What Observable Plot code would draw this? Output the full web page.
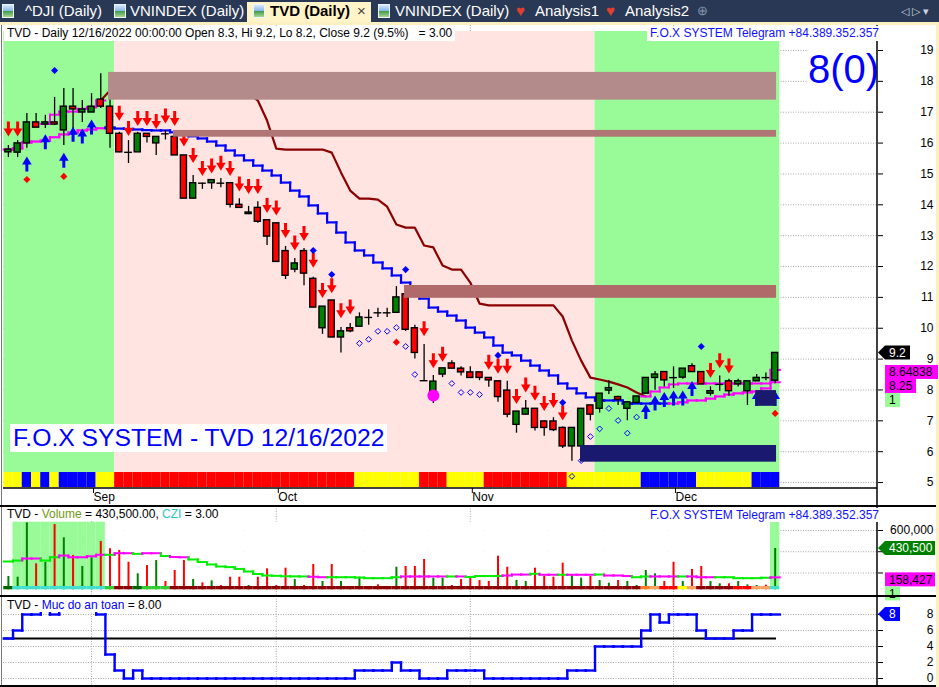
<!DOCTYPE html>
<html>
<head>
<meta charset="utf-8">
<script src="https://cdn.jsdelivr.net/npm/d3@7"></script>
<script src="https://cdn.jsdelivr.net/npm/@observablehq/plot@0.6"></script>
<style>
html,body{margin:0;padding:0;background:#fff;}
#root{position:relative;width:939px;height:687px;overflow:hidden;background:#fff;font-family:"Liberation Sans",Arial,sans-serif;}
#tabs{position:absolute;left:0;top:0;width:939px;height:22px;background:#293955;}
.tt{position:absolute;top:1px;font-size:15px;line-height:20px;color:#fff;white-space:nowrap;}
.ico{position:absolute;top:4px;width:10px;height:12px;background:linear-gradient(#d8e8ff 0%,#86b6ea 50%,#3f9a4a 51%,#a6d68f 100%);border:1px solid #eef4ff;}
.heart{position:absolute;top:1px;font-size:15px;line-height:20px;color:#e2402f;}
.sel{position:absolute;top:2px;height:21px;background:#fff3c8;}
.frame{position:absolute;background:#fcefc1;}
.box{position:absolute;background:#fff;white-space:pre;font-size:12px;line-height:15px;padding:0 3px;z-index:5;}
.hl{position:absolute;left:0;width:936px;height:1.5px;background:#000;z-index:4;}
.pane{position:absolute;left:0;}
</style>
</head>
<body>
<div id="root">
  <div id="tabs">
    <span class="ico" style="left:2px"></span><span class="tt" style="left:25px">^DJI (Daily)</span>
    <span class="ico" style="left:114px"></span><span class="tt" style="left:130px">VNINDEX (Daily)</span>
    <div class="sel" style="left:247px;width:124px"></div>
    <span class="ico" style="left:253px"></span><span class="tt" style="left:270px;color:#000;font-weight:bold">TVD (Daily)</span><span class="tt" style="left:357px;color:#444">×</span>
    <span class="ico" style="left:378px"></span><span class="tt" style="left:395px">VNINDEX (Daily)</span>
    <span class="heart" style="left:516px">♥</span><span class="tt" style="left:535px">Analysis1</span>
    <span class="heart" style="left:606px">♥</span><span class="tt" style="left:625px">Analysis2</span>
    <span class="tt" style="left:697px;color:#8796b0;font-size:13px">⊕</span>
    <span class="tt" style="left:901px;color:#cdd3de;font-size:11px">◁ ▷ ▾</span>
  </div>
  <div class="frame" style="left:0;top:22px;width:939px;height:3px"></div>
  <div class="frame" style="left:936px;top:22px;width:3px;height:665px"></div>
  <div style="position:absolute;left:1px;top:25px;width:1px;height:662px;background:#777;z-index:4"></div>

  <div id="mainPane" class="pane" style="top:25px"></div>
  <div id="volPane" class="pane" style="top:506px"></div>
  <div id="indPane" class="pane" style="top:596px"></div>

  <div class="hl" style="top:505px"></div>
  <div class="hl" style="top:595px"></div>
  <div class="hl" style="top:685px"></div>

  <div class="box" style="left:4px;top:26px">TVD - Daily 12/16/2022 00:00:00 Open 8.3, Hi 9.2, Lo 8.2, Close 9.2 (9.5%)   = 3.00</div>
  <div class="box" style="right:57px;top:26px;color:#1010ff">F.O.X SYSTEM Telegram +84.389.352.357</div>
  <div class="box" style="left:807px;top:41px;width:69px;height:52px;padding:0"></div>
  <div class="box" style="left:808px;top:49px;font-size:40px;line-height:40px;color:#0000ff;background:transparent;padding:0;z-index:6">8(0)</div>
  <div class="box" style="left:10px;top:424px;height:28px;font-size:24.7px;line-height:28px;color:#0000ff">F.O.X SYSTEM - TVD 12/16/2022</div>
  <div class="box" style="left:4px;top:507px;line-height:14px">TVD - <span style="color:#6f9a12">Volume</span> = 430,500.00, <span style="color:#2cc3c3">CZI</span> = 3.00</div>
  <div class="box" style="right:57px;top:508px;line-height:14px;color:#1010ff">F.O.X SYSTEM Telegram +84.389.352.357</div>
  <div class="box" style="left:4px;top:598px;line-height:14px">TVD - <span style="color:#0000ff">Muc do an toan</span> = 8.00</div>
</div>
<script>
// ---------------- DATA ----------------
const N = 84; // bars: 19 Aug 2022 .. 16 Dec 2022
const monthTicks = [9, 29, 50, 72];
const monthLabels = ["Sep", "Oct", "Nov", "Dec"];
const priceTicks = [5, 6, 7, 8, 9, 10, 11, 12, 13, 14, 15, 16, 17, 18, 19];
const volGrid = [200000, 400000, 600000];
const volLabelTicks = [600000];
const safetyTicks = [0, 2, 4, 6, 8];

const opens = [15.7,15.69,15.99,16.67,16.6,16.67,16.41,17.18,16.99,16.99,
17.41,17.18,16.3,15.7,15.7,16.3,15.99,16.3,16.2,15.6,
14.2,14.7,14.7,14.7,14.7,14.0,13.7,13.9,13.5,13.4,
12.5,11.9,12.5,11.6,10.0,10.9,9.7,10.0,10.05,10.35,
10.5,10.5,10.5,11.1,10.0,8.3,7.95,8.5,8.86,8.69,
8.57,8.57,8.39,8.28,7.98,6.87,7.2,7.39,6.98,6.98,
6.77,6.17,6.17,7.5,7.39,7.98,7.77,7.39,7.58,7.88,
8.39,8.58,8.4,8.4,8.77,8.58,7.88,8.18,8.28,8.18,
7.96,8.28,8.4,8.3];
const highs = [15.92,16.08,16.96,16.96,16.9,17.48,17.77,17.77,17.38,17.6,
18.25,17.6,16.35,16.08,16.35,16.3,16.2,16.4,16.4,15.6,
14.95,14.7,14.8,14.85,14.7,14.2,13.95,14.1,13.5,13.4,
12.65,12.26,12.58,11.65,10.7,10.9,10.02,10.15,10.5,10.6,
10.65,10.65,11.35,11.1,10.1,9.47,8.47,8.7,8.95,8.75,
8.75,8.57,8.39,8.28,8.28,7.3,7.66,7.39,7.0,7.1,
6.8,6.77,7.39,7.5,7.88,8.3,7.8,7.6,7.79,8.39,
8.6,8.58,8.75,8.69,8.85,8.58,8.1,8.45,8.35,8.35,
8.28,8.5,8.55,9.2];
const lows = [15.53,15.53,15.83,16.5,16.47,16.57,15.92,16.15,16.67,16.99,
17.12,15.83,15.69,15.34,15.7,16.0,15.6,16.1,15.6,14.2,
14.2,14.5,14.5,14.55,13.9,13.9,13.68,13.4,12.68,12.15,
11.58,11.8,11.38,10.67,9.8,9.7,9.2,9.85,10.05,10.1,
10.35,10.35,10.5,9.9,9.0,8.3,7.56,8.4,8.69,8.45,
8.37,8.3,8.09,7.6,7.1,6.6,7.2,6.67,6.5,6.65,
6.1,5.69,6.17,7.0,7.25,7.85,7.5,7.0,7.55,7.88,
7.99,8.1,8.05,8.35,8.58,8.18,7.8,7.95,7.8,8.1,
7.5,8.28,8.3,8.2];
const closes = [15.79,15.99,16.67,16.5,16.67,16.6,17.18,17.09,17.09,17.18,
17.18,16.3,15.7,15.7,16.3,16.2,16.2,16.3,15.6,14.2,
14.7,14.7,14.8,14.7,14.0,13.9,13.75,13.45,12.97,12.15,
11.7,12.1,11.77,10.67,10.7,9.7,9.9,9.9,10.35,10.35,
10.5,10.5,11.0,9.95,9.2,8.3,8.27,8.7,8.69,8.57,
8.39,8.39,8.31,7.77,7.2,7.3,7.39,6.77,6.77,6.7,
6.17,6.77,7.39,7.2,7.88,8.06,7.68,7.6,7.79,8.39,
8.5,8.31,8.4,8.69,8.58,8.18,7.96,8.18,7.96,8.28,
8.28,8.39,8.4,9.2];

// lower trend line (magenta in uptrend, blue in downtrend)
const trendLine = [15.79,15.83,16.02,16.05,16.08,16.19,16.28,16.34,16.41,16.44,
16.48,16.5,16.47,16.46,16.44,16.42,16.41,16.41,16.35,16.3,
16.22,16.15,16.05,15.92,15.76,15.6,15.44,15.27,15.11,14.95,
14.72,14.46,14.27,13.98,13.72,13.43,13.1,12.78,12.52,12.36,
12.13,11.94,11.71,11.48,11.22,10.96,10.67,10.54,10.41,10.25,
10.02,9.86,9.7,9.44,9.21,9.12,8.95,8.79,8.63,8.47,
8.21,8.05,7.89,7.76,7.66,7.66,7.66,7.56,7.56,7.56,
7.56,7.56,7.56,7.6,7.66,7.66,7.72,7.79,7.85,7.89,
7.92,7.95,8.05,8.648];
const trendBlueBars = [11, 71];
// upper trailing stop line (maroon when above price, magenta when below)
const stopLine = [null,null,null,null,16.62,16.92,17.02,17.02,17.11,17.16,
17.38,17.7,17.9,17.9,17.9,17.9,17.9,17.9,17.9,17.9,
17.9,17.9,17.9,17.9,17.9,17.8,17.6,17.38,16.73,15.82,
15.79,15.79,15.79,15.79,15.79,15.69,15.05,14.46,14.2,14.2,
14.17,13.94,13.36,13.26,13.26,12.68,12.62,12.03,11.9,11.9,
11.48,10.8,10.74,10.74,10.74,10.74,10.74,10.74,10.74,10.74,
10.38,9.6,8.95,8.4,8.34,8.27,8.18,8.08,7.92,7.79,
7.95,8.08,8.18,8.21,8.21,8.21,8.21,8.21,8.21,8.21,
8.21,8.21,8.21,8.25];
const stopMaroonBars = [10, 69];

// background regions (bar ranges) and bottom signal strip
const regionFrom = [0, 12, 64];
const regionTo = [11, 63, 83];
const regionKind = ["up", "down", "up"];
const stripRuns = [["Y",2],["B",1],["Y",1],["B",1],["Y",1],["B",4],["Y",2],["R",26],["Y",7],["R",3],["Y",4],["R",9],["Y",8],["B",6],["Y",6],["B",3]];

// resistance / support zones (bar range and price band)
const zoneStart = [10.84, 17.87, 42.88];
const zoneEnd = [83.15, 83.15, 83.15];
const zoneLow = [17.39, 16.19, 10.97];
const zoneHigh = [18.29, 16.41, 11.385];
const boxStart = [61.93, 80.9];
const boxEnd = [83.15, 83.15];
const boxLow = [5.66, 7.47];
const boxHigh = [6.2, 7.98];

// signals
const sellBars = [0,1,12,13,14,15,16,17,18,19,20,21,22,23,24,25,26,27,28,29,30,31,32,33,34,35,36,37,45,46,47,52,53,54,55,56,57,58,59,60,76,77,78];
const sellY = [16.46,16.46,16.97,16.47,16.8,16.8,16.7,16.88,16.8,16.13,15.6,15.18,15.26,15.35,15.18,14.67,14.59,14.59,13.98,13.9,13.17,12.76,13.07,12.2,11.22,11.38,10.57,10.69,9.98,8.95,9.16,8.9,8.77,8.77,7.79,8.16,7.89,7.56,7.66,7.25,8.63,8.95,8.78];
const buyBars = [2,4,6,7,8,9,69,70,71,72,73,74,81,83];
const buyY = [15.32,16.04,15.44,16.29,16.23,16.52,7.3,7.58,7.69,7.74,7.74,8.05,7.72,7.72];
const blueDiamondBars = [5,33,35,43,53,60,75];
const blueDiamondY = [18.35,12.52,11.74,11.9,9.12,7.59,9.41];
const redDiamondBars = [2,6,42,83];
const redDiamondY = [14.82,14.92,9.55,7.24];
const hollowBars = [38,39,40,41,42,43,44,48,49,50,51,61,62,63,64,65,66,67,68];
const hollowY = [9.51,9.64,9.9,9.9,10.02,9.41,8.5,8.21,7.92,7.92,7.85,5.2,5.71,6.49,6.74,7.4,7.01,6.6,7.12];
const circleBars = [46];
const circleY = [7.82];

// volume pane
const volumes = [167000,160000,672000,286000,301000,656000,531000,364000,261000,343000,
496000,428000,412000,301000,192000,270000,317000,120000,223000,317000,
138000,107000,126000,82000,160000,160000,82000,160000,239000,82000,
245000,138000,82000,280000,120000,280000,120000,66000,160000,66000,
88000,66000,254000,261000,261000,327000,151000,151000,82000,138000,
167000,129000,120000,358000,254000,129000,120000,245000,170000,160000,
292000,186000,151000,167000,129000,104000,129000,120000,82000,223000,
192000,120000,301000,120000,233000,261000,120000,98000,98000,120000,
88000,82000,85000,430500];
const volUp = "GGGRGRGRGG"+"RRRRGRGRRR"+"GRGRRRGRRR"+"RGRRGRGRGR"+"RRGRRRGGRR"+"RRRRRGGRRR"+"RGGRGGRGGG"+"GRRGRRGGRG"+"GGRG";
const volMA = [308000,317000,336000,336000,317000,348000,364000,348000,348000,357000,
371000,371000,386000,386000,380000,386000,386000,360000,350000,348000,
327000,303000,280000,261000,255000,238000,214000,190000,176000,173000,
169000,168000,167000,164000,160000,160000,160000,160000,157000,151000,
151000,151000,160000,167000,167000,167000,167000,167000,167000,167000,
162000,171000,171000,171000,176000,185000,185000,192000,183000,183000,
183000,183000,183000,183000,185000,176000,176000,171000,160000,167000,
167000,167000,167000,167000,167000,160000,160000,160000,160000,151000,
151000,151000,155000,158427];
const volMAMagentaBars = [2,3,6,7,8,9,10,12,13,15,16,18,19,33,34,43,44,45,46,47,49,54,55,56,58,59,61,62,63,65,66,67,70,71,72,74,75,76,83];
const volStripRuns = [["dg",1],["cy",10],["lg",1],["dr",2],["dg",1],["lg",3],["dr",51],["or",1],["sb",1],["rd",2],["ye",1],["sb",1],["dr",4],["rd",2],["sb",2],["cy",1]];
const volBgRuns = [["w",1],["g",10],["w",72],["g",1]];

// safety level pane ("Muc do an toan")
const safety = [5,6,8,8,9,8,9,9,9,9,
8,3,1,0,1,0,0,0,0,0,
0,0,0,0,0,0,0,0,0,0,
0,0,0,0,0,0,0,0,1,1,
1,1,2,1,1,0,0,0,1,1,
1,1,0,0,0,0,0,0,0,0,
0,1,1,1,4,4,4,4,4,6,
8,7,8,8,8,6,5,5,5,6,
6,8,8,8];
const safetyRef = 5;

// ---------------- STYLE / LAYOUT ----------------
const FONT = "Liberation Sans, Arial, sans-serif";
const W = 939, ML = 3, MR = 62;
const X0 = 7.9, DX = 9.238;                // pixel of bar 0, pixels per bar
const xDomain = [(ML - X0) / DX, (W - MR - X0) / DX];
const C = {green:"#98fb98", pink:"#ffe4e1", up:"#008000", dn:"#ff0000", blue:"#0000ff",
  magenta:"#ff00ff", maroon:"#8b0000", navy:"#191970", grid:"#a8a8a8", maGreen:"#00ee00"};
const REGION_FILL = {up: C.green, down: C.pink};
const STRIP_FILL = {Y:"#ffff00", B:"#0000ff", R:"#ff0000"};
const VSTRIP_FILL = {dg:"#006400", cy:"#40e0d0", lg:"#32cd32", dr:"#8b0000", or:"#ff7f27", sb:"#f4a460", rd:"#ff0000", ye:"#ffff00"};
const VBG_FILL = {w:"#ffffff", g:C.green};
const ZONE_FILL = ["#b38b8b", "#b07575", "#b06a6a"];
const PRICE_DOMAIN = [4.807, 19.81];
const BG_LO = 5.325, BG_HI = 19.616, STRIP_LO = 4.839;
const VOL_DOMAIN = [-12300, 826080];
const VOL_BG = [53640, 678190], VOL_STRIP = [41400, 72480];
const SAFE_DOMAIN = [-1.125, 10.25];
const HALF_BODY = 0.33, HALF_DOJI = 0.42;
const TAG_H = 14, TAG_SHIFT = 2.5;

const expand = runs => runs.flatMap(([k, n]) => Array(n).fill(k));
const stripCodes = expand(stripRuns);
const volStripCodes = expand(volStripRuns);
const volBgCodes = expand(volBgRuns);
const idx = d3.range(N);
const bars = idx.map(i => ({i, o: opens[i], h: highs[i], l: lows[i], c: closes[i]}));
const pts = (b, y) => b.map((x, k) => ({x, y: y[k]}));
const maMagenta = new Set(volMAMagentaBars);

function stepSegs(vals, colorOf) {
  const out = [];
  vals.forEach((v, i) => {
    if (v == null) return;
    const col = colorOf(i);
    out.push({x1: i - 0.5, x2: i + 0.5, y1: v, y2: v, c: col});
    if (i > 0 && vals[i - 1] != null) out.push({x1: i - 0.5, x2: i - 0.5, y1: vals[i - 1], y2: v, c: col});
  });
  return out;
}
const arrowDown = {draw(ctx) {ctx.moveTo(-1.5,-7.5);ctx.lineTo(1.5,-7.5);ctx.lineTo(1.5,-0.5);ctx.lineTo(4.8,-0.5);ctx.lineTo(0,7.5);ctx.lineTo(-4.8,-0.5);ctx.lineTo(-1.5,-0.5);ctx.closePath();}};
const arrowUp = {draw(ctx) {ctx.moveTo(-1.5,7.5);ctx.lineTo(1.5,7.5);ctx.lineTo(1.5,0.5);ctx.lineTo(4.8,0.5);ctx.lineTo(0,-7.5);ctx.lineTo(-4.8,0.5);ctx.lineTo(-1.5,0.5);ctx.closePath();}};

// axis line (right) and optional bottom line
const frameLines = (bottom) => (index, scales, values, dims) => {
  const g = d3.create("svg:g");
  const xr = dims.width - dims.marginRight;
  g.append("line").attr("x1", xr).attr("x2", xr).attr("y1", 0).attr("y2", dims.height)
    .attr("stroke", "#000").attr("stroke-width", 1.5);
  if (bottom) {
    const yb = dims.height - dims.marginBottom;
    g.append("line").attr("x1", dims.marginLeft).attr("x2", xr).attr("y1", yb).attr("y2", yb)
      .attr("stroke", "#000").attr("stroke-width", 1.5);
  }
  return g.node();
};
// value tags at the right of the axis
const tags = (items) => (index, scales, values, dims) => {
  const g = d3.create("svg:g");
  const xr = dims.width - dims.marginRight;
  const h = TAG_H;
  let prevBottom = -Infinity;
  for (const t of items) {
    let cy = t.value == null ? prevBottom + h / 2 : scales.y(t.value) + (t.arrow ? 0 : TAG_SHIFT);
    cy = Math.max(cy, prevBottom + h / 2);
    prevBottom = cy + h / 2;
    if (t.arrow) {
      g.append("polygon").attr("points", `${xr+1},${cy} ${xr+8},${cy-h/2} ${xr+t.w},${cy-h/2} ${xr+t.w},${cy+h/2} ${xr+8},${cy+h/2}`).attr("fill", t.fill);
    } else {
      g.append("rect").attr("x", xr + 8).attr("y", cy - h / 2).attr("width", t.w - 8).attr("height", h).attr("fill", t.fill);
    }
    g.append("text").attr("x", xr + 12).attr("y", cy).attr("dy", "0.36em").attr("fill", t.color)
      .attr("text-anchor", "start").attr("font-size", 12).attr("font-family", FONT).text(t.text);
  }
  return g.node();
};
const baseStyle = {fontFamily: FONT, fontSize: "12px", background: "transparent", overflow: "visible", color: "#000"};
const dotted = {stroke: C.grid, strokeDasharray: "1,1.5"};

// ---------------- MAIN PRICE PANE ----------------
const trendColor = i => (i >= trendBlueBars[0] && i <= trendBlueBars[1]) ? C.blue : C.magenta;
const stopMagentaVals = stopLine.map((v, i) => (i <= stopMaroonBars[0] || i >= stopMaroonBars[1]) ? v : null);
const maroonIdx = d3.range(stopMaroonBars[0], stopMaroonBars[1] + 1);
const monthName = new Map(monthTicks.map((t, k) => [t, monthLabels[k]]));

const main = Plot.plot({
  width: W, height: 481, marginLeft: ML, marginRight: MR, marginTop: 0, marginBottom: 18,
  x: {domain: xDomain, axis: null},
  y: {domain: PRICE_DOMAIN, axis: null},
  color: {type: "identity"},
  style: baseStyle,
  marks: [
    Plot.ruleY(priceTicks, dotted),
    Plot.ruleX(monthTicks, dotted),
    Plot.rect(regionFrom.map((f, k) => ({f, t: regionTo[k], kind: regionKind[k]})),
      {x1: d => d.f - 0.5, x2: d => d.t + 0.5, y1: BG_LO, y2: BG_HI, fill: d => REGION_FILL[d.kind]}),
    Plot.rect(idx, {x1: i => i - 0.5, x2: i => i + 0.5, y1: STRIP_LO, y2: BG_LO, fill: i => STRIP_FILL[stripCodes[i]]}),
    Plot.line(maroonIdx, {x: i => i, y: i => stopLine[i], stroke: C.maroon, strokeWidth: 2.2}),
    Plot.link(stepSegs(stopMagentaVals, () => C.magenta), {x1: "x1", x2: "x2", y1: "y1", y2: "y2", stroke: "c", strokeWidth: 2, strokeLinecap: "square"}),
    Plot.link(stepSegs(trendLine, trendColor), {x1: "x1", x2: "x2", y1: "y1", y2: "y2", stroke: "c", strokeWidth: 2.2, strokeLinecap: "square"}),
    // candles
    Plot.ruleX(bars, {x: "i", y1: "l", y2: "h", stroke: "#000", strokeWidth: 1.3}),
    Plot.rect(bars.filter(d => d.o !== d.c), {x1: d => d.i - HALF_BODY, x2: d => d.i + HALF_BODY, y1: "o", y2: "c",
      fill: d => d.c > d.o ? C.up : C.dn, stroke: "#000", strokeWidth: 1.4}),
    Plot.ruleY(bars.filter(d => d.o === d.c), {y: "c", x1: d => d.i - HALF_DOJI, x2: d => d.i + HALF_DOJI, stroke: "#000", strokeWidth: 1.4}),
    // signals
    Plot.dot(pts(sellBars, sellY), {x: "x", y: "y", symbol: arrowDown, fill: "#ff0000", stroke: "none", r: 5}),
    Plot.dot(pts(buyBars, buyY), {x: "x", y: "y", symbol: arrowUp, fill: "#0000ff", stroke: "none", r: 5}),
    Plot.dot(pts(blueDiamondBars, blueDiamondY), {x: "x", y: "y", symbol: "diamond2", fill: "#0000ff", stroke: "none", r: 3.2}),
    Plot.dot(pts(redDiamondBars, redDiamondY), {x: "x", y: "y", symbol: "diamond2", fill: "#ff0000", stroke: "none", r: 3.2}),
    Plot.dot(pts(hollowBars, hollowY), {x: "x", y: "y", symbol: "diamond2", fill: "none", stroke: "#0000ff", strokeWidth: 1, r: 2.6}),
    Plot.dot(pts(circleBars, circleY), {x: "x", y: "y", fill: C.magenta, stroke: "none", r: 6}),
    // zones and boxes
    Plot.rect(zoneStart.map((s, k) => ({s, e: zoneEnd[k], lo: zoneLow[k], hi: zoneHigh[k], k})),
      {x1: "s", x2: "e", y1: "lo", y2: "hi", fill: d => ZONE_FILL[d.k]}),
    Plot.rect(boxStart.map((s, k) => ({s, e: boxEnd[k], lo: boxLow[k], hi: boxHigh[k]})),
      {x1: "s", x2: "e", y1: "lo", y2: "hi", fill: C.navy}),
    // axes
    Plot.axisY(priceTicks, {anchor: "right", tickSize: 5, tickPadding: 51, textAnchor: "end", fontSize: 12}),
    Plot.axisX(monthTicks, {anchor: "bottom", tickSize: 5, tickPadding: -1, textAnchor: "start", dx: 2, fontSize: 12, tickFormat: d => monthName.get(d)}),
    frameLines(true),
    tags([
      {value: closes[N - 1], text: "9.2", fill: "#000", color: "#fff", arrow: true, w: 33},
      {value: trendLine[N - 1], text: "8.64838", fill: C.magenta, color: "#000", w: 61},
      {value: stopLine[N - 1], text: "8.25", fill: C.magenta, color: "#000", w: 39},
      {value: null, text: "1", fill: C.green, color: "#000", w: 23}
    ])
  ]
});
document.getElementById("mainPane").appendChild(main);

// ---------------- VOLUME PANE ----------------
const maSegs = stepSegs(volMA, i => maMagenta.has(i) ? C.magenta : C.maGreen);
const vol = Plot.plot({
  width: W, height: 89, marginLeft: ML, marginRight: MR, marginTop: 0, marginBottom: 0,
  x: {domain: xDomain, axis: null},
  y: {domain: VOL_DOMAIN, axis: null},
  color: {type: "identity"},
  style: baseStyle,
  marks: [
    Plot.ruleY(volGrid, dotted),
    Plot.ruleX(monthTicks, dotted),
    Plot.rect(idx, {x1: i => i - 0.5, x2: i => i + 0.5, y1: VOL_BG[0], y2: VOL_BG[1], fill: i => VBG_FILL[volBgCodes[i]]}),
    Plot.ruleX(idx, {x: i => i, y1: VOL_STRIP[0], y2: i => volumes[i], stroke: i => volUp[i] === "G" ? C.up : C.dn, strokeWidth: 2}),
    Plot.link(maSegs, {x1: "x1", x2: "x2", y1: "y1", y2: "y2", stroke: "c", strokeWidth: 2, strokeLinecap: "square"}),
    Plot.rect(idx, {x1: i => i - 0.5, x2: i => i + 0.5, y1: VOL_STRIP[0], y2: VOL_STRIP[1], fill: i => VSTRIP_FILL[volStripCodes[i]]}),
    Plot.axisY(volGrid, {anchor: "right", tickSize: 5, tickFormat: () => ""}),
    Plot.axisY(volLabelTicks, {anchor: "right", tickSize: 5, tickPadding: 51, textAnchor: "end", fontSize: 12, tickFormat: d3.format(",")}),
    frameLines(false),
    tags([
      {value: volumes[N - 1], text: "430,500", fill: "#008000", color: "#fff", arrow: true, w: 58},
      {value: volMA[N - 1], text: "158,427", fill: C.magenta, color: "#000", w: 58},
      {value: null, text: "1", fill: C.green, color: "#000", w: 23}
    ])
  ]
});
document.getElementById("volPane").appendChild(vol);

// ---------------- SAFETY LEVEL PANE ----------------
const ind = Plot.plot({
  width: W, height: 91, marginLeft: ML, marginRight: MR, marginTop: 0, marginBottom: 0,
  x: {domain: xDomain, axis: null},
  y: {domain: SAFE_DOMAIN, axis: null},
  color: {type: "identity"},
  style: baseStyle,
  marks: [
    Plot.ruleY(safetyTicks, dotted),
    Plot.ruleX(monthTicks, dotted),
    Plot.ruleY([safetyRef], {x1: -0.5, x2: zoneEnd[0], stroke: "#000", strokeWidth: 2}),
    Plot.link(stepSegs(safety, () => C.blue), {x1: "x1", x2: "x2", y1: "y1", y2: "y2", stroke: "c", strokeWidth: 2.4, strokeLinecap: "square"}),
    Plot.axisY(safetyTicks, {anchor: "right", tickSize: 5, tickPadding: 51, textAnchor: "end", fontSize: 12}),
    frameLines(false),
    tags([{value: safety[N - 1], text: "8", fill: C.blue, color: "#fff", arrow: true, w: 23}])
  ]
});
document.getElementById("indPane").appendChild(ind);
</script>
</body>
</html>
